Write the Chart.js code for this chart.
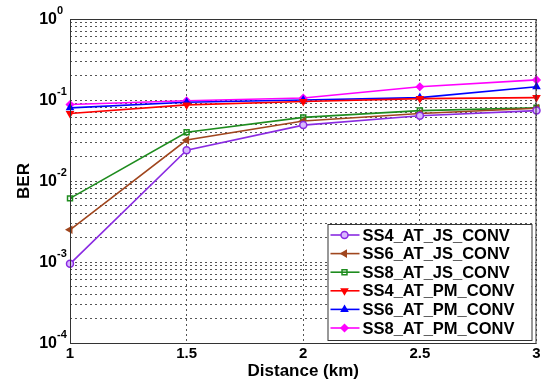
<!DOCTYPE html>
<html>
<head>
<meta charset="utf-8">
<script src="https://cdn.jsdelivr.net/npm/chart.js@4/dist/chart.umd.min.js"></script>
<style>
  body { margin: 0; background: #fff; }
  canvas { display: block; }
</style>
</head>
<body>
<canvas id="berChart" width="542" height="380"></canvas>
<script>
// data
const distance = [1, 1.5, 2, 2.5, 3];
const ss4Js = [0.00095, 0.024, 0.049, 0.064, 0.074];
const ss6Js = [0.0025, 0.032, 0.055, 0.068, 0.079];
const ss8Js = [0.0061, 0.040, 0.061, 0.074, 0.080];
const ss4Pm = [0.068, 0.087, 0.096, 0.104, 0.107];
const ss6Pm = [0.080, 0.094, 0.100, 0.107, 0.146];
const ss8Pm = [0.088, 0.098, 0.106, 0.146, 0.177];
const xTicks = [1, 1.5, 2, 2.5, 3];
const yExponents = [-4, -3, -2, -1, 0];

const pts = arr => arr.map((v, i) => ({ x: distance[i], y: v }));

function series(label, values, color, style, rotation, fill) {
  return {
    label: label,
    data: pts(values),
    borderColor: color,
    backgroundColor: fill || color,
    pointBackgroundColor: fill || color,
    pointBorderColor: color,
    pointStyle: style,
    rotation: rotation,
    pointRadius: 3.5,
    pointBorderWidth: 1.5,
    borderWidth: 1.6,
    tension: 0,
    clip: false
  };
}

const datasets = [
  series('SS4_AT_JS_CONV', ss4Js, '#8a2be2', 'circle', 0, '#d9b8ff'),
  series('SS6_AT_JS_CONV', ss6Js, '#a0461e', 'triangle', 270),
  series('SS8_AT_JS_CONV', ss8Js, '#1e8c1e', 'rect', 0, 'rgba(255,255,255,0)'),
  series('SS4_AT_PM_CONV', ss4Pm, '#ff0000', 'triangle', 180),
  series('SS6_AT_PM_CONV', ss6Pm, '#0000ff', 'triangle', 0),
  series('SS8_AT_PM_CONV', ss8Pm, '#ff00ff', 'rectRot', 0)
];

// all 1..9 x 10^n ticks for the minor grid
const yGridTicks = [];
for (let e = -4; e <= 0; e++) {
  for (let m = 1; m <= 9; m++) {
    const v = m * Math.pow(10, e);
    if (v <= 1) yGridTicks.push({ value: v });
  }
}

const FONT = '"Liberation Sans", Arial, sans-serif';

const labelsPlugin = {
  id: 'matlabLabels',
  afterDraw(chart) {
    const ctx = chart.ctx;
    const area = chart.chartArea;
    const xs = chart.scales.x, ys = chart.scales.y;
    ctx.save();

    // box around plot
    ctx.strokeStyle = '#333';
    ctx.lineWidth = 1;
    ctx.strokeRect(area.left + 0.5, area.top + 0.5, area.right - area.left - 1, area.bottom - area.top);

    ctx.fillStyle = '#000';
    // x tick labels
    ctx.font = 'bold 15px ' + FONT;
    ctx.textAlign = 'center';
    ctx.textBaseline = 'middle';
    xTicks.forEach(t => ctx.fillText(String(t), xs.getPixelForValue(t), area.bottom + 11));

    // y tick labels 10^n
    yExponents.forEach(e => {
      const y = ys.getPixelForValue(Math.pow(10, e));
      ctx.font = 'bold 16px ' + FONT;
      ctx.textAlign = 'right';
      ctx.textBaseline = 'middle';
      ctx.fillText('10', area.left - 13, y + 1);
      ctx.font = 'bold 11px ' + FONT;
      ctx.textAlign = 'left';
      ctx.fillText(e === 0 ? '0' : '-' + Math.abs(e), area.left - 13, y - 8);
    });

    // axis titles
    ctx.font = 'bold 17px ' + FONT;
    ctx.textAlign = 'center';
    ctx.textBaseline = 'middle';
    ctx.fillText('Distance (km)', (area.left + area.right) / 2, area.bottom + 28);
    ctx.save();
    ctx.translate(24, (area.top + area.bottom) / 2);
    ctx.rotate(-Math.PI / 2);
    ctx.fillText('BER', 0, 0);
    ctx.restore();

    // legend box inside plot, bottom right
    const bx = area.right - 209, by = area.bottom - 119, bw = 204, bh = 116;
    ctx.fillStyle = '#fff';
    ctx.fillRect(bx, by, bw, bh);
    ctx.strokeStyle = '#333';
    ctx.strokeRect(bx + 0.5, by + 0.5, bw, bh);
    ctx.font = 'bold 16.5px ' + FONT;
    ctx.textAlign = 'left';
    chart.data.datasets.forEach((ds, i) => {
      const ry = by + 11 + i * 18.6;
      ctx.strokeStyle = ds.borderColor;
      ctx.lineWidth = 1.6;
      ctx.beginPath();
      ctx.moveTo(bx + 3, ry);
      ctx.lineTo(bx + 32, ry);
      ctx.stroke();
      ctx.fillStyle = ds.pointBackgroundColor;
      ctx.lineWidth = 1.5;
      Chart.helpers.drawPoint(ctx, {
        pointStyle: ds.pointStyle, rotation: ds.rotation, radius: 3.5, borderWidth: 1.5
      }, bx + 17, ry);
      ctx.fillStyle = '#000';
      ctx.fillText(ds.label, bx + 35, ry + 1);
    });
    ctx.restore();
  }
};

new Chart(document.getElementById('berChart'), {
  type: 'line',
  data: { datasets: datasets },
  options: {
    responsive: false,
    animation: false,
    layout: { padding: { left: 0, top: 19, right: 5, bottom: 0 } },
    plugins: { legend: { display: false }, tooltip: { enabled: false } },
    scales: {
      x: {
        type: 'linear',
        min: 1,
        max: 3,
        afterBuildTicks: s => { s.ticks = xTicks.map(v => ({ value: v })); },
        afterFit: s => { s.height = 37; },
        ticks: { display: false },
        grid: { color: '#555', drawTicks: false },
        border: { display: false, dash: [2, 3] }
      },
      y: {
        type: 'logarithmic',
        min: 1e-4,
        max: 1,
        afterBuildTicks: s => { s.ticks = yGridTicks.slice(); },
        afterFit: s => { s.width = 70; },
        ticks: { display: false },
        grid: { color: '#555', drawTicks: false },
        border: { display: false, dash: [2, 3] }
      }
    }
  },
  plugins: [labelsPlugin]
});
</script>
</body>
</html>
